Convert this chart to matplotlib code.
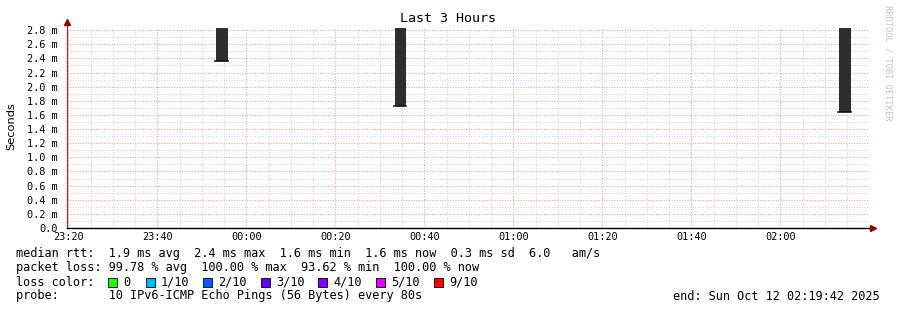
import datetime as dt
import matplotlib
matplotlib.use("Agg")
import matplotlib.pyplot as plt
import matplotlib.dates as mdates
from matplotlib.patches import Rectangle
from matplotlib.ticker import MultipleLocator, FuncFormatter

# time window of the graph (3 hours)
t_start = dt.datetime(2025, 10, 11, 23, 19, 42)
t_end = dt.datetime(2025, 10, 12, 2, 19, 42)

# smoke bars: start time of each step, low / high rtt (ms), median (ms)
bar_times = [dt.datetime(2025, 10, 11, 23, 53, 12),
             dt.datetime(2025, 10, 12, 0, 33, 18),
             dt.datetime(2025, 10, 12, 2, 13, 12)]
bar_low_ms = [2.36, 1.72, 1.64]
bar_high_ms = [2.95, 2.95, 2.95]
median_ms = [2.36, 1.72, 1.64]
step_seconds = 160

y_max_ms = 2.83

loss_labels = ["0", "1/10", "2/10", "3/10", "4/10", "5/10", "9/10"]
loss_colors = ["#26ff00", "#00b8ff", "#0059ff", "#5e00ff", "#7e00ff", "#dd00ff", "#ff0000"]

legend_rtt = "median rtt:  1.9 ms avg  2.4 ms max  1.6 ms min  1.6 ms now  0.3 ms sd  6.0   am/s"
legend_loss = "packet loss: 99.78 % avg  100.00 % max  93.62 % min  100.00 % now"
probe_text = "probe:       10 IPv6-ICMP Echo Pings (56 Bytes) every 80s"
end_text = "end: Sun Oct 12 02:19:42 2025"

mono = "DejaVu Sans Mono"
W, H = 897, 310
fig = plt.figure(figsize=(W / 100, H / 100), dpi=100)
fig.patch.set_facecolor("white")

ax = fig.add_axes([67 / W, (H - 228) / H, (868 - 67) / W, 200 / H])
ax.set_xlim(t_start, t_end)
ax.set_ylim(0, y_max_ms)

# smoke bars + median line
width = dt.timedelta(seconds=step_seconds)
for t, lo, hi, med in zip(bar_times, bar_low_ms, bar_high_ms, median_ms):
    x0 = mdates.date2num(t)
    w = mdates.date2num(t + width) - x0
    ax.add_patch(Rectangle((x0, lo), w, hi - lo, facecolor="#2e2e2e", edgecolor="none", zorder=3))
    ax.plot([x0 - w * 0.08, x0 + w], [med, med], color="#111111", lw=1.2, zorder=4)

# grid
ax.xaxis.set_major_locator(mdates.MinuteLocator(byminute=[0, 20, 40]))
ax.xaxis.set_minor_locator(mdates.MinuteLocator(byminute=range(0, 60, 5)))
ax.xaxis.set_major_formatter(mdates.DateFormatter("%H:%M"))
ax.yaxis.set_major_locator(MultipleLocator(0.2))
ax.yaxis.set_minor_locator(MultipleLocator(0.1))
ax.yaxis.set_major_formatter(FuncFormatter(lambda v, p: "0.0" if abs(v) < 1e-9 else "%.1f m" % v))

ax.grid(which="minor", color="#d4d4d4", lw=0.75, linestyle=(0, (1, 1.5)), zorder=1)
ax.grid(which="major", color="#f0a0a0", lw=0.75, linestyle=(0, (1, 1.5)), zorder=1)
ax.set_axisbelow(True)

ax.tick_params(which="both", length=0, labelsize=7.4, colors="black", pad=7)
for lab in ax.get_xticklabels() + ax.get_yticklabels():
    lab.set_fontfamily(mono)
ax.tick_params(axis="x", pad=3)

for s in ["top", "right", "left", "bottom"]:
    ax.spines[s].set_visible(False)

# axes lines with arrows
ax.plot([0, 0], [0, 1.03], transform=ax.transAxes, color="#a03030", lw=0.9, clip_on=False, zorder=5)
ax.plot([0, 1.006], [0, 0], transform=ax.transAxes, color="black", lw=1.0, clip_on=False, zorder=5)
ax.plot([0], [1.03], transform=ax.transAxes, marker="^", ms=4, color="#8b0000", clip_on=False, zorder=6)
ax.plot([1.006], [0], transform=ax.transAxes, marker=">", ms=4, color="#8b0000", clip_on=False, zorder=6)

fig.text(11 / W, 1 - 126 / H, "Seconds", rotation=90, ha="center", va="center",
         fontfamily="DejaVu Sans", fontsize=8.2)

fig.text(448 / W, 1 - 19 / H, "Last 3 Hours", ha="center", va="center", fontfamily=mono, fontsize=9.6)
fig.text(888 / W, 1 - 5 / H, "RRDTOOL / TOBI OETIKER", rotation=-90, ha="center", va="top",
         fontfamily=mono, fontsize=6.2, color="#c4c4c4")

# legend block
fs = 8.55
fig.text(16 / W, 1 - 254 / H, legend_rtt, ha="left", va="center", fontfamily=mono, fontsize=fs)
fig.text(16 / W, 1 - 268 / H, legend_loss, ha="left", va="center", fontfamily=mono, fontsize=fs)
fig.text(16 / W, 1 - 282 / H, "loss color:", ha="left", va="center", fontfamily=mono, fontsize=fs)
fig.text(16 / W, 1 - 296 / H, probe_text, ha="left", va="center", fontfamily=mono, fontsize=fs)
fig.text(880 / W, 1 - 296 / H, end_text, ha="right", va="center", fontfamily=mono, fontsize=fs)

box_x = [109, 147, 204, 262, 319, 377, 435]
for bx, lab, col in zip(box_x, loss_labels, loss_colors):
    fig.patches.append(Rectangle(((bx - 1) / W, 1 - 287 / H), 9 / W, 9 / H, transform=fig.transFigure,
                                 facecolor=col, edgecolor="black", lw=0.6))
    fig.text((bx + 14) / W, 1 - 282 / H, lab, ha="left", va="center", fontfamily=mono, fontsize=fs)

fig.savefig("out.png", dpi=100, facecolor="white")
